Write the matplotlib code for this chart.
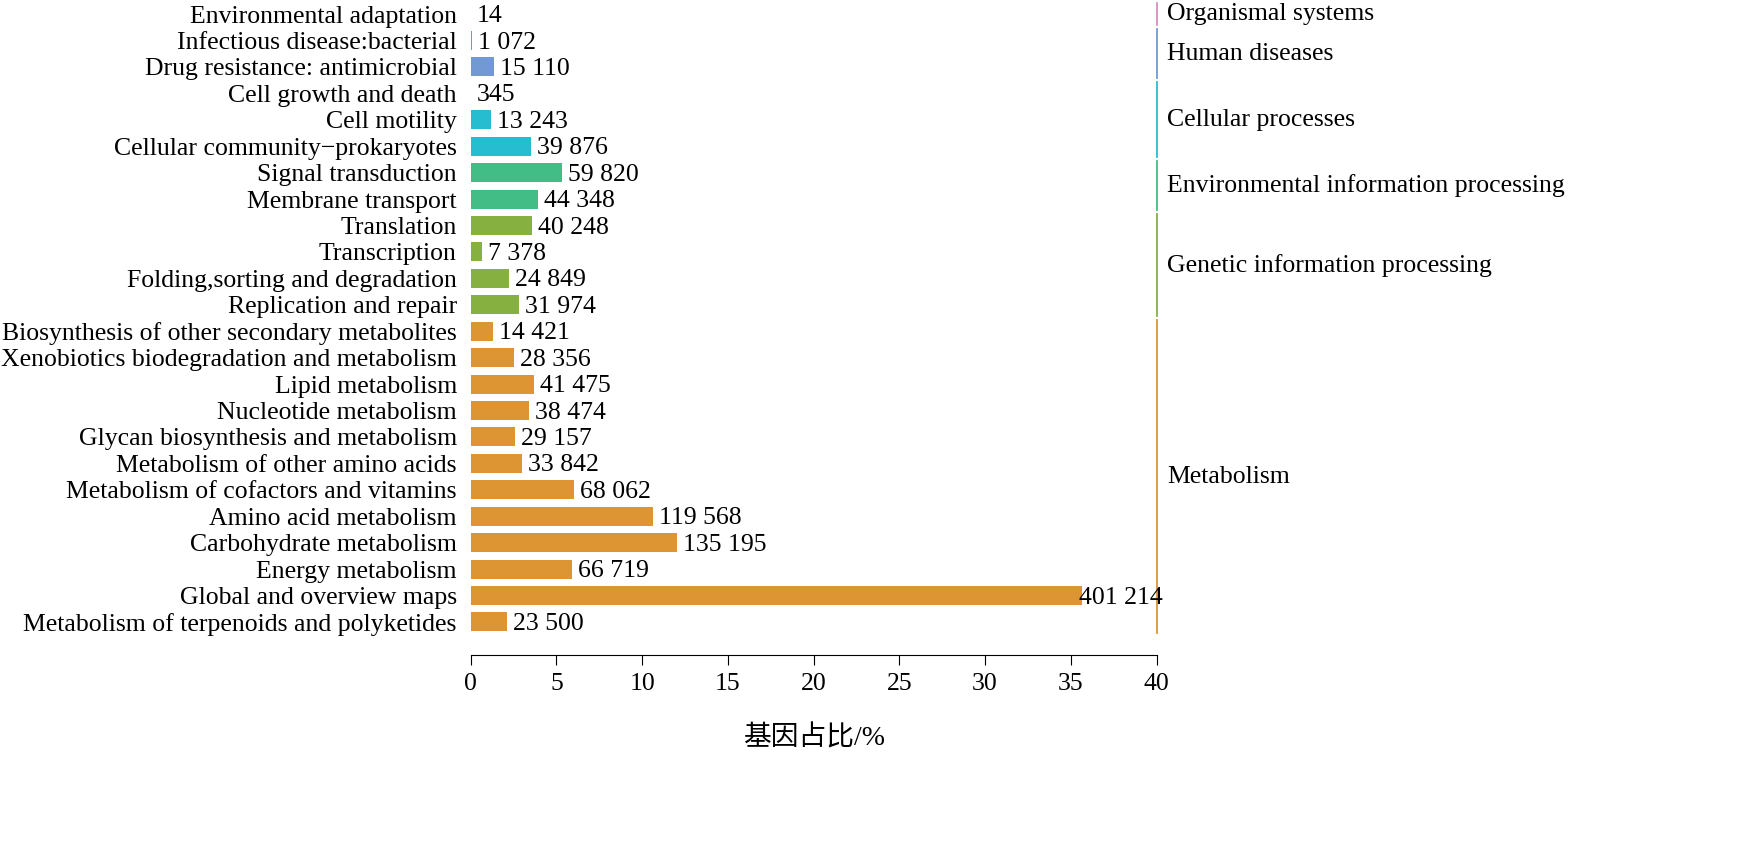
import matplotlib.pyplot as plt

plt.rcParams['font.family'] = ['Liberation Serif', 'Noto Sans CJK SC']

# bottom to top
pathways = [
    "Metabolism of terpenoids and polyketides", "Global and overview maps", "Energy metabolism",
    "Carbohydrate metabolism", "Amino acid metabolism", "Metabolism of cofactors and vitamins",
    "Metabolism of other amino acids", "Glycan biosynthesis and metabolism", "Nucleotide metabolism",
    "Lipid metabolism", "Xenobiotics biodegradation and metabolism",
    "Biosynthesis of other secondary metabolites",
    "Replication and repair", "Folding,sorting and degradation", "Transcription", "Translation",
    "Membrane transport", "Signal transduction",
    "Cellular community\u2212prokaryotes", "Cell motility", "Cell growth and death",
    "Drug resistance: antimicrobial", "Infectious disease:bacterial",
    "Environmental adaptation",
]
counts = [23500, 401214, 66719, 135195, 119568, 68062, 33842, 29157, 38474, 41475, 28356, 14421,
          31974, 24849, 7378, 40248, 44348, 59820, 39876, 13243, 345, 15110, 1072, 14]
percent = [2.09, 35.66, 5.93, 12.02, 10.63, 6.05, 3.01, 2.59, 3.42, 3.69, 2.52, 1.28,
           2.84, 2.21, 0.66, 3.58, 3.94, 5.32, 3.54, 1.18, 0.03, 1.34, 0.095, 0.001]
groups = ["Metabolism", "Genetic information processing", "Environmental information processing",
          "Cellular processes", "Human diseases", "Organismal systems"]
group_sizes = [12, 4, 2, 3, 2, 1]
group_colors = ["#DD9432", "#86B140", "#43BD86", "#27BDD1", "#7399D4", "#D58FC2"]

fig = plt.figure(figsize=(17.63, 8.55), dpi=100)
ax = fig.add_axes([0.267, 0.234, 0.389, 0.766])

colors = []
for c, n in zip(group_colors, group_sizes):
    colors += [c] * n
ypos = list(range(len(pathways)))
ax.barh(ypos, percent, height=0.72, color=colors)
for y, p, c in zip(ypos, percent, counts):
    lab = f"{c:,}".replace(",", " ")
    off = -0.2 if p > 30 else 0.35
    ax.text(p + off, y - 0.08, lab, va='center', ha='left', fontsize=18.5)

ax.set_yticks(ypos)
ax.set_yticklabels(pathways, fontsize=18.5)
ax.tick_params(axis='y', length=0, pad=10)
ax.set_xlim(0, 40)
ax.set_ylim(-1.25, 23.53)
ax.set_xticks(range(0, 41, 5))
ax.tick_params(axis='x', labelsize=18.5, length=7, direction='out', pad=6)
for s in ['top', 'right', 'left']:
    ax.spines[s].set_visible(False)
ax.set_xlabel("基因占比/%", fontsize=20, labelpad=22)

start = 0
for g, n, c in zip(groups, group_sizes, group_colors):
    y0, y1 = start - 0.42, start + n - 1 + 0.42
    ax.plot([40, 40], [y0, y1], color=c, lw=1.3, clip_on=False)
    ax.text(40.6, (y0 + y1) / 2, g, va='center', ha='left', fontsize=18.5)
    start += n

fig.savefig("out.png", dpi=100)
